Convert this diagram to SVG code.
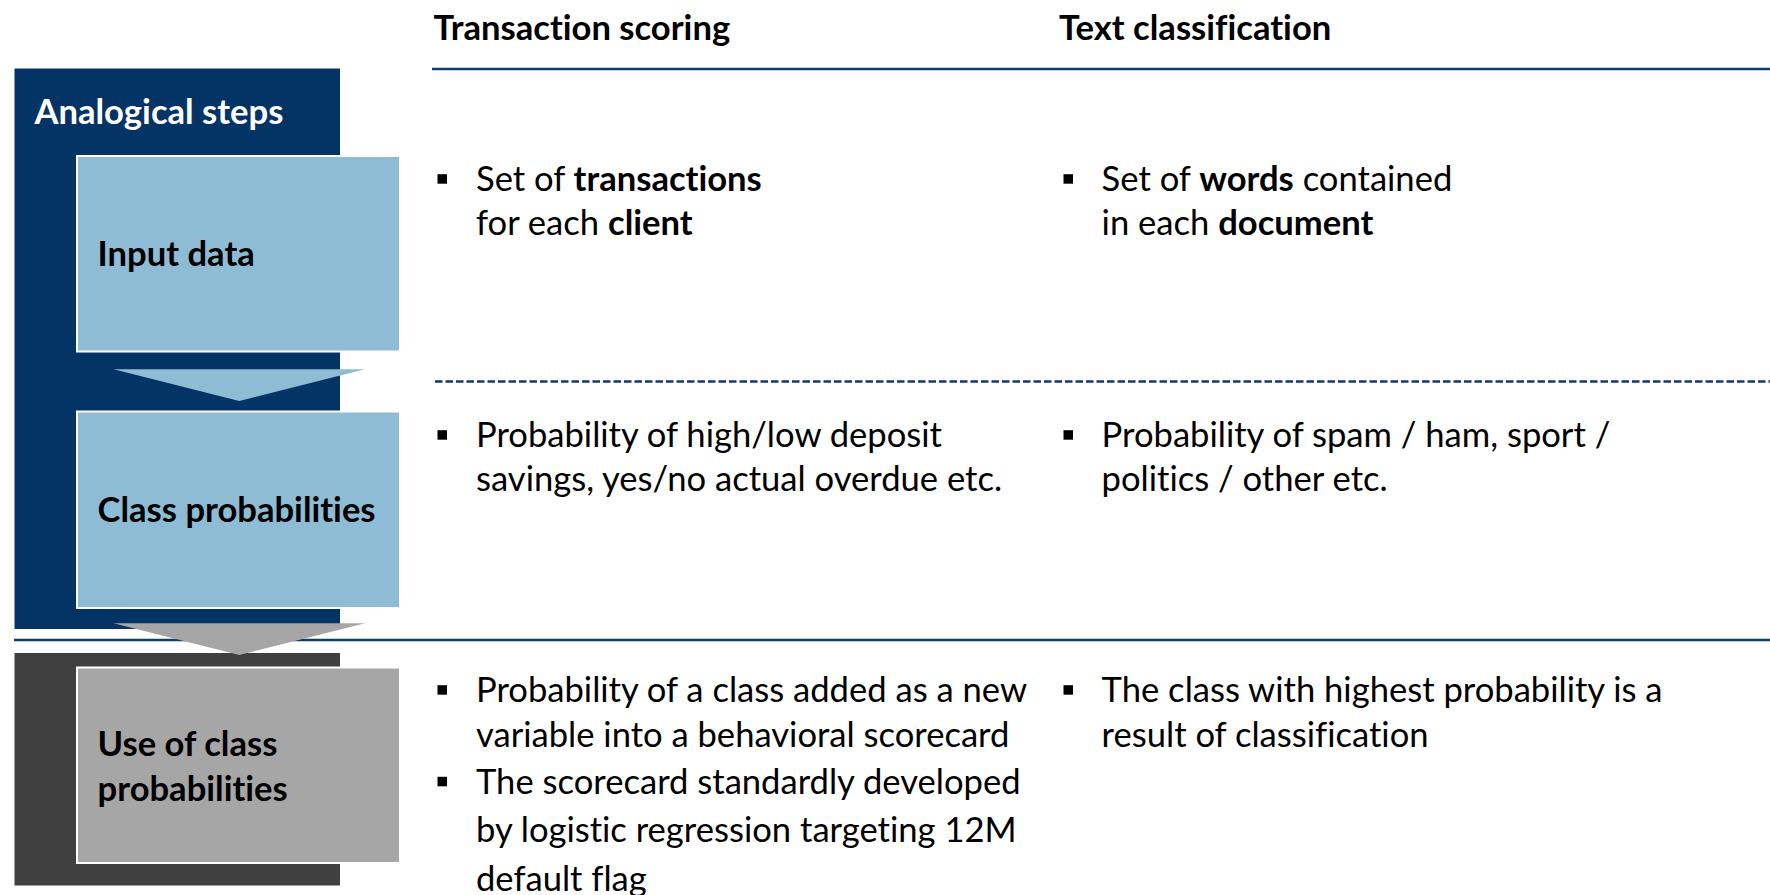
<svg xmlns="http://www.w3.org/2000/svg" width="1770" height="895" viewBox="0 0 1770 895">
<style>
.t{font-family:Lato,"Liberation Sans",sans-serif;font-size:34.6px;fill:#000;font-variant-ligatures:none;font-feature-settings:"liga" 0,"dlig" 0}
.b{font-weight:bold}
.w{fill:#fff}
.rule{stroke:#0F3C6C;stroke-width:2.5;fill:none}
.dash{stroke:#0F3C6C;stroke-width:2.5;stroke-dasharray:7.5 3;fill:none}
.lb{fill:#8EBCD5;stroke:#fff;stroke-width:2}
.gr{fill:#A6A6A6;stroke:#fff;stroke-width:2}
.bul{fill:#000}
</style>
<rect width="1770" height="895" fill="#fff"/>
<g id="rules">
<line class="rule" x1="432" y1="69" x2="1770" y2="69"/>
<line class="dash" x1="435" y1="381.5" x2="1770" y2="381.5"/>
<line class="rule" x1="14" y1="640" x2="1770" y2="640"/>
</g>
<g id="analogical-steps">
<rect x="14.5" y="68.5" width="325.5" height="560.5" fill="#043465"/>
<text class="t b w" x="34.5" y="123.5">Analogical steps</text>
</g>
<g id="use-panel">
<rect x="14.5" y="653" width="325.5" height="232.5" fill="#404040"/>
</g>
<g id="node-input">
<rect class="lb" x="77" y="156" width="323" height="195.5"/>
<text class="t b" x="97.6" y="266.2">Input data</text>
</g>
<g id="node-class">
<rect class="lb" x="77" y="411.5" width="323" height="196.5"/>
<text class="t b" x="97.6" y="522.2">Class probabilities</text>
</g>
<g id="node-use">
<rect class="gr" x="77" y="667.5" width="323" height="195.5"/>
<text class="t b" x="97.6" y="755.5">Use of class</text>
<text class="t b" x="97.6" y="800.8">probabilities</text>
</g>
<g id="connectors">
<polygon points="113.5,369.3 365,369.3 239.3,401" fill="#8EBCD5"/>
<polygon points="113.5,623.3 365,623.3 239.3,655" fill="#A6A6A6"/>
</g>
<g id="header-transaction">
<text class="t b" x="433.5" y="39.8">Transaction scoring</text>
</g>
<g id="header-text">
<text class="t b" x="1059" y="39.8">Text classification</text>
</g>
<g id="cell-input-transaction">
<rect class="bul" x="437.5" y="174.2" width="9.5" height="9.5"/>
<text class="t" x="476" y="191.2">Set of <tspan class="b">transactions</tspan></text>
<text class="t" x="476" y="234.8">for each <tspan class="b">client</tspan></text>
</g>
<g id="cell-input-text">
<rect class="bul" x="1063.5" y="174.2" width="9.5" height="9.5"/>
<text class="t" x="1101.6" y="191.2">Set of <tspan class="b">words</tspan> contained</text>
<text class="t" x="1101.6" y="234.8">in each <tspan class="b">document</tspan></text>
</g>
<g id="cell-class-transaction">
<rect class="bul" x="437.5" y="430.2" width="9.5" height="9.5"/>
<text class="t" x="476" y="447.2">Probability of high/low deposit</text>
<text class="t" x="476" y="490.5">savings, yes/no actual overdue etc.</text>
</g>
<g id="cell-class-text">
<rect class="bul" x="1063.5" y="430.2" width="9.5" height="9.5"/>
<text class="t" x="1101.6" y="447.2">Probability of spam / ham, sport /</text>
<text class="t" x="1101.6" y="490.5">politics / other etc.</text>
</g>
<g id="cell-use-transaction">
<rect class="bul" x="437.5" y="685.2" width="9.5" height="9.5"/>
<text class="t" x="476" y="702.2">Probability of a class added as a new</text>
<text class="t" x="476" y="746.5">variable into a behavioral scorecard</text>
<rect class="bul" x="437.5" y="776.8" width="9.5" height="9.5"/>
<text class="t" x="476" y="793.8">The scorecard standardly developed</text>
<text class="t" x="476" y="842.2">by logistic regression targeting 12M</text>
<text class="t" x="476" y="890.5">default flag</text>
</g>
<g id="cell-use-text">
<rect class="bul" x="1063.5" y="685.2" width="9.5" height="9.5"/>
<text class="t" x="1101.6" y="702.2">The class with highest probability is a</text>
<text class="t" x="1101.6" y="746.5">result of classification</text>
</g>
</svg>
